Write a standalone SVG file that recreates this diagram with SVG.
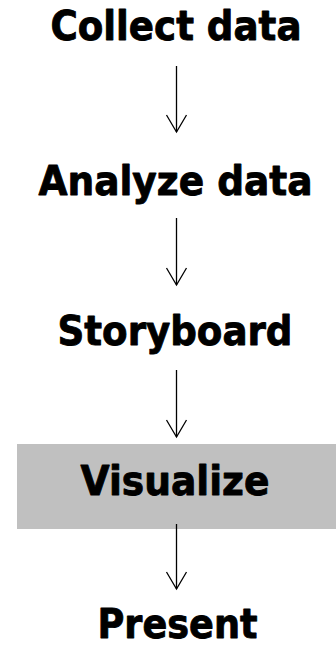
<svg xmlns="http://www.w3.org/2000/svg" width="336" height="659" viewBox="0 0 336 659">
  <defs>
    <style>
      .label { font-family: "DejaVu Sans", Verdana, sans-serif; font-weight: bold; font-size: 41px; fill: #000; stroke: #000; stroke-width: 0.9; stroke-linejoin: round; text-anchor: middle; }
      .flow { stroke: #000; stroke-width: 1.3; fill: none; }
    </style>
    <marker id="vee" markerUnits="userSpaceOnUse" markerWidth="40" markerHeight="40" refX="0" refY="0" orient="auto" overflow="visible">
      <path d="M-17,-10 L0,0 L-17,10" fill="none" stroke="#000" stroke-width="1.3"/>
    </marker>
  </defs>
  <rect width="336" height="659" fill="#fff"/>

  <g id="collect">
    <text class="label" x="176" y="40" textLength="251" lengthAdjust="spacingAndGlyphs">Collect data</text>
  </g>
  <g id="analyze">
    <text class="label" x="175.5" y="195" textLength="274" lengthAdjust="spacingAndGlyphs">Analyze data</text>
  </g>
  <g id="storyboard">
    <text class="label" x="175" y="345" textLength="235" lengthAdjust="spacingAndGlyphs">Storyboard</text>
  </g>
  <g id="visualize">
    <rect x="17" y="444" width="319" height="85" fill="#c0c0c0"/>
    <text class="label" x="175" y="495" textLength="189" lengthAdjust="spacingAndGlyphs">Visualize</text>
  </g>
  <g id="present">
    <text class="label" x="177.5" y="638" textLength="160" lengthAdjust="spacingAndGlyphs">Present</text>
  </g>

  <g id="connectors">
    <line class="flow" x1="176.5" y1="66" x2="176.5" y2="132" marker-end="url(#vee)"/>
    <line class="flow" x1="176.5" y1="218" x2="176.5" y2="285" marker-end="url(#vee)"/>
    <line class="flow" x1="176.5" y1="370" x2="176.5" y2="437" marker-end="url(#vee)"/>
    <line class="flow" x1="176.5" y1="524" x2="176.5" y2="589" marker-end="url(#vee)"/>
  </g>
</svg>
